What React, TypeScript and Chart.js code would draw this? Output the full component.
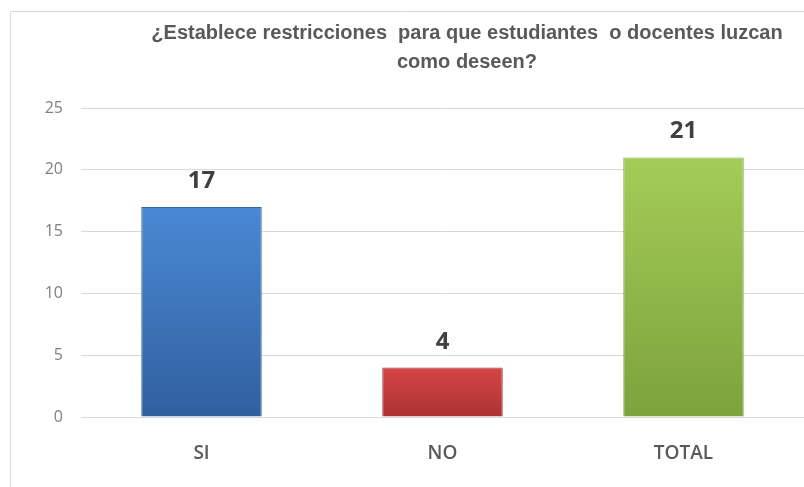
import React, { useEffect, useRef } from "react";
import { Chart, registerables } from "chart.js";

Chart.register(...registerables);

const categories = ["SI", "NO", "TOTAL"];
const values = [17, 4, 21];
const titleLines = [
  "¿Establece restricciones  para que estudiantes  o docentes luzcan",
  "como deseen?",
];
const yTicks = [0, 5, 10, 15, 20, 25];

const barTop = ["#4a88d4", "#d64545", "#a4cc58"];
const barBottom = ["#30609e", "#ac3333", "#7ca23c"];
const barEdge = ["#3566a8", "#a33838", "#86aa45"];

export default function App() {
  const ref = useRef<HTMLCanvasElement | null>(null);

  useEffect(() => {
    document.body.style.margin = "0";
    const canvas = ref.current;
    if (!canvas) return;

    const framePlugin = {
      id: "frame",
      beforeDraw(chart: any) {
        const ctx = chart.ctx;
        ctx.save();
        ctx.fillStyle = "#ffffff";
        ctx.fillRect(0, 0, chart.width, chart.height);
        ctx.strokeStyle = "#d9d9d9";
        ctx.lineWidth = 1;
        ctx.beginPath();
        ctx.moveTo(10.5, chart.height);
        ctx.lineTo(10.5, 11.5);
        ctx.lineTo(chart.width, 11.5);
        ctx.stroke();
        ctx.restore();
      },
    };

    const titlePlugin = {
      id: "customTitle",
      afterDraw(chart: any) {
        const ctx = chart.ctx;
        ctx.save();
        ctx.fillStyle = "#595959";
        ctx.font = "bold 20px 'Liberation Sans Narrow', 'Liberation Sans', Arial, sans-serif";
        ctx.textAlign = "center";
        ctx.textBaseline = "middle";
        ctx.fillText(titleLines[0], 467, 33);
        ctx.fillText(titleLines[1], 467, 62);
        ctx.restore();
      },
    };

    const labelPlugin = {
      id: "valueLabels",
      afterDatasetsDraw(chart: any) {
        const ctx = chart.ctx;
        const meta = chart.getDatasetMeta(0);
        ctx.save();
        ctx.fillStyle = "#404040";
        ctx.font = "bold 24px 'Open Sans', sans-serif";
        ctx.textAlign = "center";
        ctx.textBaseline = "alphabetic";
        meta.data.forEach((bar: any, i: number) => {
          ctx.fillText(String(values[i]), bar.x, bar.y - 19);
        });
        ctx.restore();
      },
    };

    const chart = new Chart(canvas, {
      type: "bar",
      data: {
        labels: categories,
        datasets: [
          {
            data: values,
            backgroundColor: (c: any) => {
              const i = c.dataIndex;
              const ys = c.chart.scales && c.chart.scales.y;
              if (!ys || !c.chart.chartArea) return barTop[i];
              const top = ys.getPixelForValue(values[i]);
              const bottom = ys.getPixelForValue(0);
              const g = c.chart.ctx.createLinearGradient(0, top, 0, bottom);
              g.addColorStop(0, barTop[i]);
              g.addColorStop(1, barBottom[i]);
              return g;
            },
            borderColor: barEdge,
            borderWidth: 1,
            barPercentage: 0.5,
            categoryPercentage: 1,
          },
        ],
      },
      options: {
        animation: false,
        responsive: true,
        maintainAspectRatio: false,
        layout: { padding: { top: 108, left: 0, right: 0, bottom: 0 } },
        plugins: {
          legend: { display: false },
          title: { display: false },
          tooltip: { enabled: false },
        },
        scales: {
          x: {
            grid: { display: false, drawTicks: false },
            border: { display: false },
            ticks: {
              color: "#595959",
              padding: 25,
              font: { family: "'Open Sans', sans-serif", size: 19, weight: "600" },
            },
            afterFit(scale: any) {
              scale.height = 70;
            },
          },
          y: {
            min: 0,
            max: 25,
            afterBuildTicks(scale: any) {
              scale.ticks = yTicks.map((v) => ({ value: v }));
            },
            grid: { color: "#d9d9d9", drawTicks: false, lineWidth: 1 },
            border: { display: false },
            ticks: {
              color: "#7f7f7f",
              padding: 18,
              font: { family: "'Open Sans', sans-serif", size: 16 },
            },
            afterFit(scale: any) {
              scale.width = 81;
            },
          },
        },
      },
      plugins: [framePlugin, titlePlugin, labelPlugin],
    });

    return () => chart.destroy();
  }, []);

  return (
    <div style={{ position: "relative", width: 804, height: 487 }}>
      <canvas ref={ref} />
    </div>
  );
}
